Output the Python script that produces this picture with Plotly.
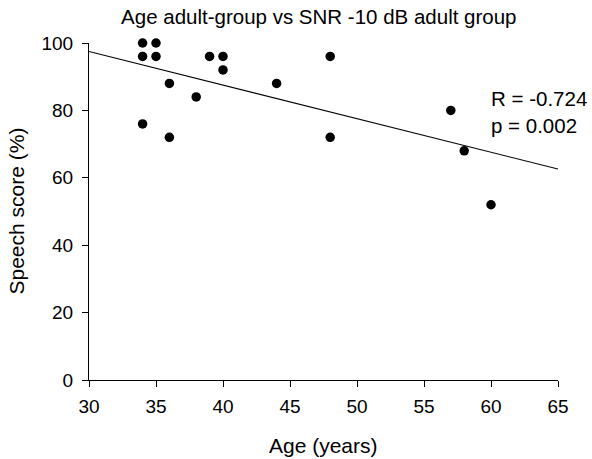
import numpy as np
import plotly.graph_objects as go

age = [34, 34, 34, 35, 35, 36, 36, 38, 39, 40, 40, 44, 48, 48, 57, 58, 60]
score = [100, 96, 76, 100, 96, 88, 72, 84, 96, 96, 92, 88, 96, 72, 80, 68, 52]
x_ticks = [30, 35, 40, 45, 50, 55, 60, 65]
y_ticks = [0, 20, 40, 60, 80, 100]
stats_text = "R = -0.724<br>p = 0.002"

slope, intercept = np.polyfit(age, score, 1)
line_x = [30, 65]
line_y = [slope * v + intercept for v in line_x]

font = "Liberation Sans, Arial, sans-serif"

fig = go.Figure()
fig.add_trace(go.Scatter(x=line_x, y=line_y, mode="lines", cliponaxis=False,
                         line=dict(color="black", width=1.1), hoverinfo="skip"))
fig.add_trace(go.Scatter(x=age, y=score, mode="markers", cliponaxis=False,
                         marker=dict(color="black", size=9.5)))

fig.update_layout(
    width=592, height=459,
    margin=dict(l=89, r=34, t=43, b=79),
    paper_bgcolor="white", plot_bgcolor="white",
    showlegend=False,
    font=dict(family=font, size=19, color="black"),
    title=dict(text="Age adult-group vs SNR -10 dB adult group",
               xref="paper", x=0.49, xanchor="center",
               y=0.963, yanchor="middle",
               font=dict(size=20.5, family=font, color="black")),
)
fig.update_xaxes(range=[30, 65], tickvals=x_ticks, showgrid=False, zeroline=False,
                 showline=True, linecolor="black", linewidth=1,
                 ticks="outside", ticklen=6, tickcolor="black",
                 ticklabelstandoff=3,
                 tickfont=dict(size=19), automargin=False)
fig.update_yaxes(range=[0, 100], tickvals=y_ticks, showgrid=False, zeroline=False,
                 showline=True, linecolor="black", linewidth=1,
                 ticks="outside", ticklen=6, tickcolor="black",
                 ticklabelstandoff=5,
                 tickfont=dict(size=19), automargin=False)
fig.add_annotation(x=0.5, y=-0.0, xref="paper", yref="paper", yshift=-65,
                   text="Age (years)", showarrow=False,
                   xanchor="center", yanchor="middle",
                   font=dict(size=21, family=font, color="black"))
fig.add_annotation(x=0, y=0.5, xref="paper", yref="paper", xshift=-73,
                   text="Speech score (%)", showarrow=False, textangle=-90,
                   xanchor="center", yanchor="middle",
                   font=dict(size=21, family=font, color="black"))
fig.add_annotation(x=59.85, y=79.6, xref="x", yref="y", text=stats_text,
                   showarrow=False, xanchor="left", yanchor="middle", align="left",
                   font=dict(size=20.5, family=font, color="black"))

fig.write_html("out.html",
               config={"displayModeBar": False},
               post_script="document.body.style.margin='0';"
                           "document.documentElement.style.overflow='hidden';")
